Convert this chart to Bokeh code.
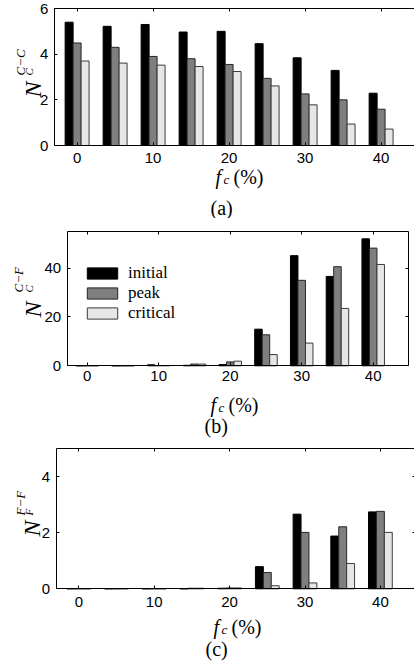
import math
from bokeh.plotting import figure
from bokeh.models import (Range1d, FixedTicker, LinearAxis, Label, Legend,
                          LegendItem, ColumnDataSource, CustomLabelingPolicy)
from bokeh.layouts import column
from bokeh.embed import file_html
from bokeh.resources import INLINE

# ---------------- data ----------------
groups = [0, 5, 10, 15, 20, 25, 30, 35, 40]
series_names = ["initial", "peak", "critical"]
x_ticks = [0, 10, 20, 30, 40]

a_initial = [5.40, 5.22, 5.30, 4.97, 5.00, 4.46, 3.84, 3.29, 2.29]
a_peak = [4.49, 4.30, 3.90, 3.80, 3.55, 2.94, 2.26, 2.00, 1.59]
a_critical = [3.70, 3.61, 3.52, 3.46, 3.24, 2.61, 1.78, 0.94, 0.72]
a_yticks = [0, 2, 4, 6]

b_initial = [0.0, 0.0, 0.4, 0.2, 0.5, 15.0, 45.1, 36.6, 52.0]
b_peak = [0.0, 0.0, 0.1, 0.7, 1.6, 12.7, 35.0, 40.6, 48.2]
b_critical = [0.0, 0.0, 0.1, 0.7, 1.9, 4.6, 9.3, 23.5, 41.5]
b_yticks = [0, 20, 40]

c_initial = [0.0, 0.0, 0.0, 0.0, 0.02, 0.79, 2.66, 1.88, 2.74]
c_peak = [0.0, 0.0, 0.0, 0.02, 0.03, 0.58, 2.01, 2.21, 2.76]
c_critical = [0.0, 0.0, 0.0, 0.02, 0.03, 0.11, 0.21, 0.90, 2.01]
c_yticks = [0, 2, 4]

# ---------------- style ----------------
FILLS = ["#000000", "#7f7f7f", "#e6e6e6"]
LINES = ["#000000", "#262626", "#3a3a3a"]
OFFSETS = [-1.05, 0.0, 1.05]
BAR_W = 1.05
SANS = "Liberation Sans"
SERIF = "Liberation Serif"
W = 414

HIDE_LABELS = "for (const i of indices) { indices.unset(i) }\nreturn indices"


def make_axis(ticks, loc, bounds, labels=True, standoff=6):
    ax = LinearAxis(fixed_location=loc, bounds=bounds)
    ax.ticker = FixedTicker(ticks=ticks)
    ax.major_tick_in = 3
    ax.major_tick_out = 0
    ax.minor_tick_in = 0
    ax.minor_tick_out = 0
    ax.axis_line_color = "black"
    ax.axis_line_width = 1
    ax.major_tick_line_color = "black"
    ax.major_label_text_color = "black"
    ax.major_label_text_font = SANS
    ax.major_label_text_font_size = "15px"
    ax.major_label_standoff = standoff
    if not labels:
        ax.major_label_policy = CustomLabelingPolicy(code=HIDE_LABELS)
    return ax


def make_panel(series, H, geom, y_end, y_ticks, box_x, ylab, xlab, caption,
               legend_top=None, x_standoff=7):
    # geom: pixel of x=0, pixels per x unit, pixel of box top, pixel of box bottom
    x0_px, sx, top_px, bot_px = geom
    sy = (bot_px - top_px) / y_end
    p = figure(width=W, height=H,
               x_range=Range1d(-x0_px / sx, (W - x0_px) / sx),
               y_range=Range1d(-(H - bot_px) / sy, y_end + top_px / sy),
               x_axis_type=None, y_axis_type=None,
               output_backend="svg", toolbar_location=None,
               min_border_left=0, min_border_right=0,
               min_border_top=0, min_border_bottom=0)
    p.outline_line_color = None
    p.background_fill_color = "white"
    p.border_fill_color = "white"

    p.add_layout(make_axis(y_ticks, box_x[0], (0, y_end), True, 6), "left")
    p.add_layout(make_axis(x_ticks, 0, box_x, True, x_standoff), "below")
    p.add_layout(make_axis(x_ticks, y_end, box_x, False), "above")
    p.add_layout(make_axis(y_ticks, box_x[1], (0, y_end), False), "right")

    renderers = []
    for i, vals in enumerate(series):
        src = ColumnDataSource(dict(x=[g + OFFSETS[i] for g in groups], top=vals))
        r = p.vbar(x="x", top="top", bottom=0, width=BAR_W, source=src,
                   fill_color=FILLS[i], line_color=LINES[i], line_width=1)
        renderers.append(r)

    if legend_top is not None:
        lx, ly = legend_top
        leg = Legend(items=[LegendItem(label=n, renderers=[r])
                            for n, r in zip(series_names, renderers)],
                     location=(lx, H - (ly + 60)), orientation="vertical",
                     glyph_width=38, glyph_height=14, label_height=20,
                     label_standoff=7, spacing=0, padding=0, margin=0,
                     label_text_font=SERIF, label_text_font_size="17px",
                     label_text_color="black",
                     border_line_color=None, background_fill_alpha=0)
        p.add_layout(leg)

    def text(t, x, y, size, italic=False, angle=0.0):
        p.add_layout(Label(x=x, y=H - y, x_units="screen", y_units="screen",
                           text=t, angle=angle, text_font=SERIF,
                           text_font_size=f"{size}px",
                           text_font_style="italic" if italic else "normal",
                           text_align="left", text_baseline="alphabetic",
                           text_color="black"))

    for (t, x, y, s) in ylab:
        text(t, x, y, s, True, math.pi / 2)
    fx, fy = xlab
    text("f", fx, fy, 20, True)
    text("c", fx + 8, fy + 3, 13, True)
    text("(%)", fx + 18, fy, 20)
    text(caption[0], caption[1], caption[2], 20)
    return p


pa = make_panel([a_initial, a_peak, a_critical], 218,
                (76.6, 7.6, 8, 145), 6, a_yticks, (-3, 45.2),
                [("N", 32, 97, 24), ("C", 28, 75, 11), ("C\u2212C", 20, 75, 13)],
                (215, 176), ("(a)", 210, 207), x_standoff=7)

pb = make_panel([b_initial, b_peak, b_critical], 222,
                (86.7, 7.15, 13, 147.3), 55, b_yticks, (-2.8, 44.9),
                [("N", 32, 99, 24), ("C", 28, 74, 11), ("C\u2212F", 18, 74, 13)],
                (210, 186), ("(b)", 204, 207),
                legend_top=(83, 45), x_standoff=5)

pc = make_panel([c_initial, c_peak, c_critical], 224,
                (78.3, 7.54, 8, 148.3), 5, c_yticks, (-3, 44.6),
                [("N", 31, 96, 24), ("F", 28, 75, 11), ("F\u2212F", 20, 75, 13)],
                (213, 186), ("(c)", 205, 208), x_standoff=8)

layout = column(pa, pb, pc, spacing=0)
open("out.html", "w").write(file_html(layout, INLINE))
